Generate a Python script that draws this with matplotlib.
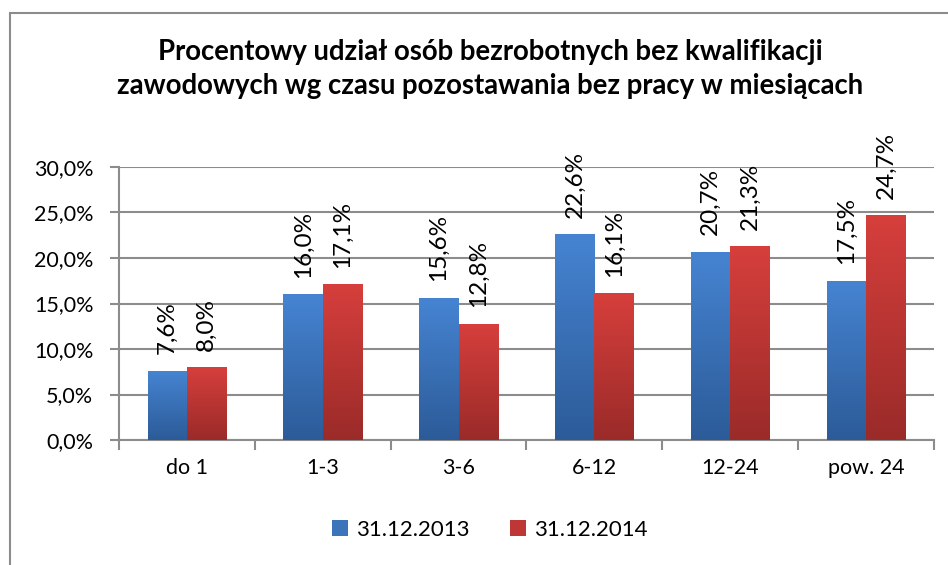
import numpy as np
import matplotlib

matplotlib.use("Agg")
import matplotlib.pyplot as plt
from matplotlib.colors import LinearSegmentedColormap
from matplotlib.patches import Rectangle

categories = ["do 1", "1-3", "3-6", "6-12", "12-24", "pow. 24"]
series_names = ["31.12.2013", "31.12.2014"]
values_2013 = [7.6, 16.0, 15.6, 22.6, 20.7, 17.5]
values_2014 = [8.0, 17.1, 12.8, 16.1, 21.3, 24.7]
y_ticks = [0, 5, 10, 15, 20, 25, 30]

plt.rcParams["font.family"] = ["Lato", "DejaVu Sans"]

grad_blue = LinearSegmentedColormap.from_list("b", ["#2c5b98", "#4684d2"])
grad_red = LinearSegmentedColormap.from_list("r", ["#9a2b29", "#d63f3c"])

fig = plt.figure(figsize=(9.48, 5.65), dpi=100)
ax = fig.add_axes([119 / 948, 1 - 440 / 565, (934 - 119) / 948, (440 - 167) / 565])

# chart frame (cut off at right and bottom)
fig.patches.append(Rectangle((10 / 948, -0.1), 1.2, 1 - 13 / 565 + 0.1,
                             transform=fig.transFigure, fill=False,
                             edgecolor="#8c8c8c", linewidth=1.5))

x = np.arange(len(categories))
w = 0.29
gradient = np.linspace(0, 1, 256).reshape(-1, 1)
fs = 15.5

for vals, offset, cmap, name in [(values_2013, -w / 2, grad_blue, series_names[0]),
                                 (values_2014, w / 2, grad_red, series_names[1])]:
    bars = ax.bar(x + offset, vals, width=w, color=cmap(0.6), label=name, zorder=2)
    for b, v in zip(bars, vals):
        im = ax.imshow(gradient, cmap=cmap, aspect="auto", origin="lower",
                       extent=(b.get_x(), b.get_x() + b.get_width(), 0, v), zorder=3)
        im.set_clip_path(b)
        ax.annotate(f"{v:.1f}%".replace(".", ","), (b.get_x() + b.get_width() / 2, v),
                    xytext=(0, 12), textcoords="offset points",
                    rotation=90, ha="center", va="bottom", fontsize=17.5, zorder=4)

ax.set_xlim(-0.5, len(categories) - 0.5)
ax.set_ylim(0, 30)
ax.set_yticks(y_ticks)
ax.set_yticklabels([f"{t:.1f}%".replace(".", ",") for t in y_ticks], fontsize=fs)
ax.set_xticks(x)
ax.set_xticklabels(categories, fontsize=fs)
ax.set_xticks(np.arange(len(categories) + 1) - 0.5, minor=True)
ax.tick_params(axis="x", which="major", length=0, pad=13)
ax.tick_params(axis="x", which="minor", length=7, color="#8c8c8c", width=1.5)
ax.tick_params(axis="y", length=6.5, color="#8c8c8c", width=1.5, pad=12)
ax.grid(axis="y", color="#8c8c8c", linewidth=1.5, zorder=0)
ax.set_axisbelow(True)
for s in ["top", "right"]:
    ax.spines[s].set_visible(False)
for s in ["left", "bottom"]:
    ax.spines[s].set_color("#8c8c8c")
    ax.spines[s].set_linewidth(1.5)

fig.text(490 / 948, 1 - 69 / 565,
         "Procentowy udział osób bezrobotnych bez kwalifikacji\n"
         "zawodowych wg czasu pozostawania bez pracy w miesiącach",
         ha="center", va="center", fontsize=19.8, fontweight="bold", linespacing=1.4)

handles, labels = ax.get_legend_handles_labels()
fig.legend(handles, labels, loc="center", bbox_to_anchor=(490 / 948, 1 - 530 / 565),
           ncol=2, frameon=False, fontsize=16, handlelength=0.7, handleheight=0.7,
           handletextpad=0.4, columnspacing=1.8)

fig.savefig("out.png", dpi=100)
